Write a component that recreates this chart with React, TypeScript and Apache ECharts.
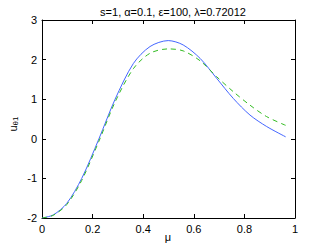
import React, { useEffect, useRef } from "react";
import * as echarts from "echarts";

const mu = [0, 0.045, 0.098, 0.157, 0.225, 0.289, 0.361, 0.427, 0.499, 0.558, 0.625, 0.69, 0.756, 0.822, 0.888, 0.963];
const blueU = [-2, -1.92, -1.63, -1, 0, 1, 1.9, 2.33, 2.48, 2.37, 2.03, 1.53, 1.02, 0.6, 0.31, 0.05];
const greenU = [-2, -1.93, -1.66, -1.05, -0.06, 0.93, 1.77, 2.16, 2.27, 2.22, 1.97, 1.57, 1.19, 0.85, 0.56, 0.34];
const titleText = "s=1, α=0.1, ε=100, λ=0.72012";

export default function App() {
  const ref = useRef<HTMLDivElement>(null);
  useEffect(() => {
    const chart = echarts.init(ref.current!, null, { renderer: "svg" });
    const font = "Liberation Sans, Arial, sans-serif";
    const tick = { inside: true, length: 4, lineStyle: { color: "#000", width: 1 } };
    const line = { show: true, onZero: false, lineStyle: { color: "#000", width: 1 } };
    chart.setOption({
      animation: false,
      title: {
        text: titleText,
        left: 168,
        top: 1,
        textAlign: "center",
        textStyle: { fontSize: 11, fontWeight: "normal", color: "#000", fontFamily: font },
      },
      grid: { left: 42, right: 32, top: 20, bottom: 28 },
      graphic: [
        {
          type: "text", x: 168, y: 231,
          style: { text: "μ", fill: "#000", font: "11px " + font, align: "center", verticalAlign: "top" },
        },
        {
          type: "text", x: 13, y: 124, rotation: Math.PI / 2,
          style: {
            text: "{a|u}{b|θ1}", fill: "#000", align: "center", verticalAlign: "middle",
            rich: {
              a: { fontSize: 11, fontFamily: font, fill: "#000" },
              b: { fontSize: 8, fontFamily: font, fill: "#000", padding: [5, 0, 0, 0] },
            },
          },
        },
      ],
      xAxis: [
        {
          type: "value", min: 0, max: 1, interval: 0.2, position: "bottom",
          axisLine: line, axisTick: tick, splitLine: { show: false },
          axisLabel: { color: "#000", fontSize: 11, fontFamily: font, margin: 5 },
        },
        {
          type: "value", min: 0, max: 1, interval: 0.2, position: "top",
          axisLine: line, axisTick: tick, splitLine: { show: false }, axisLabel: { show: false },
        },
      ],
      yAxis: [
        {
          type: "value", min: -2, max: 3, interval: 1, position: "left",
          axisLine: line, axisTick: tick, splitLine: { show: false },
          axisLabel: { color: "#000", fontSize: 11, fontFamily: font, margin: 5 },
        },
        {
          type: "value", min: -2, max: 3, interval: 1, position: "right",
          axisLine: line, axisTick: tick, splitLine: { show: false }, axisLabel: { show: false },
        },
      ],
      series: [
        {
          type: "line", smooth: 0.3, symbol: "none",
          data: mu.map((m, i) => [m, blueU[i]]),
          lineStyle: { color: "#4466ff", width: 1 },
        },
        {
          type: "line", smooth: 0.3, symbol: "none",
          data: mu.map((m, i) => [m, greenU[i]]),
          lineStyle: { color: "#33bb22", width: 1, type: [5, 4] },
        },
      ],
    });
    return () => chart.dispose();
  }, []);
  return <div ref={ref} style={{ position: "fixed", left: 0, top: 0, width: 327, height: 246, background: "#fff" }} />;
}
